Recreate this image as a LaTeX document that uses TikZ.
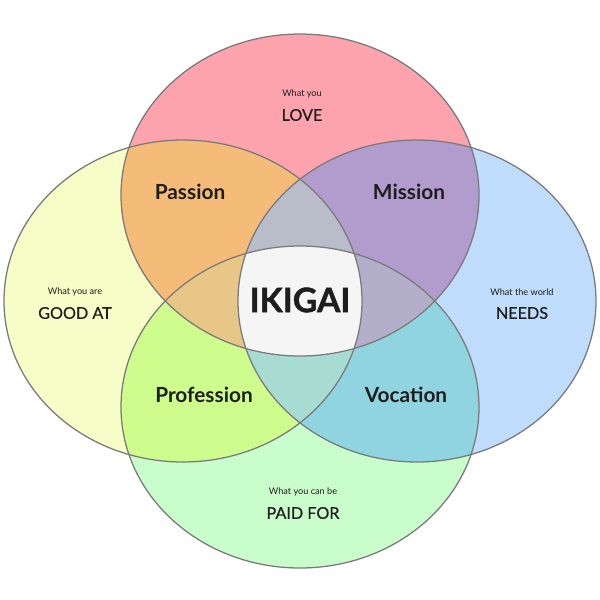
\documentclass[tikz,border=0pt]{standalone}
\usepackage{fontspec}
\setsansfont{Lato}
\newfontfamily\topicfont[FakeBold=0.6]{Lato}
\newfontfamily\corefont[BoldFeatures={FakeBold=1.2}]{Lato}
\usetikzlibrary{positioning}
\definecolor{lovefill}{HTML}{FCA3AE}
\definecolor{goodfill}{HTML}{F6FDC6}
\definecolor{needsfill}{HTML}{BFDCFD}
\definecolor{paidfill}{HTML}{C9FDCC}
\definecolor{passionfill}{HTML}{F4BC78}
\definecolor{missionfill}{HTML}{B19CCD}
\definecolor{professionfill}{HTML}{CEFD8D}
\definecolor{vocationfill}{HTML}{8FD4DF}
\definecolor{topmid}{HTML}{B9BDC9}
\definecolor{leftmid}{HTML}{E7C688}
\definecolor{rightmid}{HTML}{B3AFCA}
\definecolor{lowmid}{HTML}{A8DBD1}
\definecolor{corefill}{HTML}{F5F5F5}
\definecolor{edge}{HTML}{7A7A7A}
\definecolor{ink}{HTML}{1E1E1E}

% the four rings
\newcommand{\ringlove}{(300,195) ellipse [x radius=179, y radius=161]}
\newcommand{\ringpaid}{(300,407) ellipse [x radius=179, y radius=161]}
\newcommand{\ringgood}{(183,301) ellipse [x radius=179, y radius=161]}
\newcommand{\ringneeds}{(417,301) ellipse [x radius=179, y radius=161]}

\begin{document}
\begin{tikzpicture}[
    x=0.025cm, y=-0.025cm,
    font=\sffamily,
    ring/.style={draw=edge, line width=0.9pt},
    hint/.style={text=ink, font=\sffamily\fontsize{6.5}{8}\selectfont},
    topic/.style={text=ink, font=\topicfont\fontsize{11.5}{13}\selectfont},
    overlap/.style={text=ink, font=\sffamily\bfseries\fontsize{14.8}{17}\selectfont},
    core/.style={text=ink, font=\corefont\bfseries\fontsize{24}{27}\selectfont}
]
\useasboundingbox (0,0) rectangle (600,600);

% single rings
\fill[lovefill] \ringlove;
\fill[goodfill] \ringgood;
\fill[needsfill] \ringneeds;
\fill[paidfill] \ringpaid;

% pairs
\begin{scope}
  \clip \ringlove;
  \fill[passionfill] \ringgood;
  \fill[missionfill] \ringneeds;
\end{scope}
\begin{scope}
  \clip \ringpaid;
  \fill[professionfill] \ringgood;
  \fill[vocationfill] \ringneeds;
\end{scope}

% triples
\begin{scope}
  \clip \ringlove;
  \clip \ringgood;
  \fill[topmid] \ringneeds;
  \fill[leftmid] \ringpaid;
\end{scope}
\begin{scope}
  \clip \ringlove;
  \clip \ringneeds;
  \fill[rightmid] \ringpaid;
\end{scope}
\begin{scope}
  \clip \ringpaid;
  \clip \ringgood;
  \fill[lowmid] \ringneeds;
\end{scope}

% all four
\begin{scope}
  \clip \ringlove;
  \clip \ringpaid;
  \clip \ringgood;
  \fill[corefill] \ringneeds;
\end{scope}

\draw[ring] \ringlove;
\draw[ring] \ringgood;
\draw[ring] \ringneeds;
\draw[ring] \ringpaid;

\node[hint] (lovehint) at (302,94) {What you};
\node[topic] (love) at (302,115) {LOVE};
\node[hint] (goodhint) at (75,292) {What you are};
\node[topic] (good) at (75,313) {GOOD AT};
\node[hint] (needshint) at (522,292) {What the world};
\node[topic] (needs) at (522,313) {NEEDS};
\node[hint] (paidhint) at (303,492) {What you can be};
\node[topic] (paid) at (303,513) {PAID FOR};

\node[overlap] (passion) at (190,192) {Passion};
\node[overlap] (mission) at (409,192) {Mission};
\node[overlap] (profession) at (204,395) {Profession};
\node[overlap] (vocation) at (406,395) {Vocation};

\node[core] (ikigai) at (300,300) {IKIGAI};

\end{tikzpicture}
\end{document}
